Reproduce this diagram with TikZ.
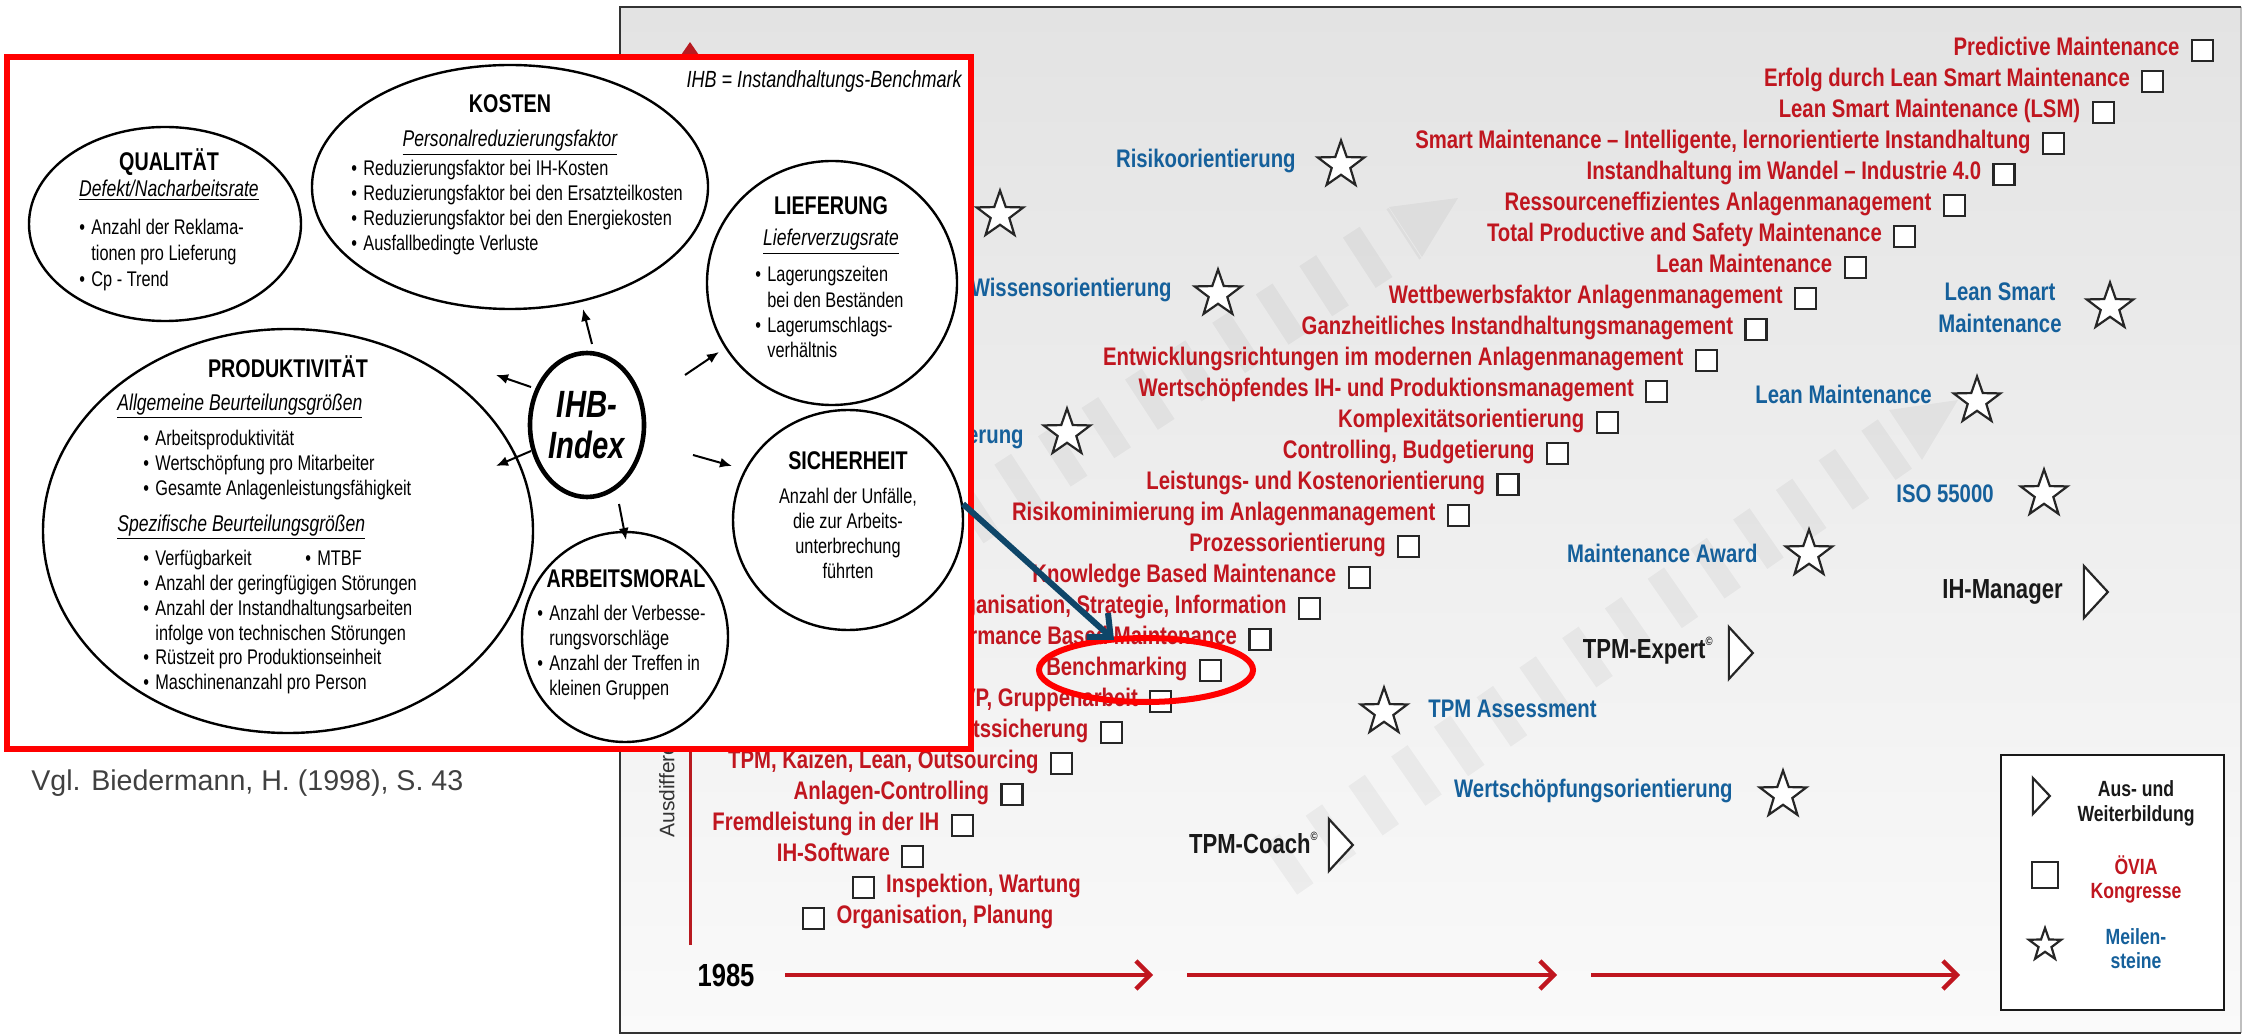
\documentclass[tikz,border=0pt]{standalone}
\usepackage{fontspec}
\setmainfont{Liberation Sans}
\newfontfamily\cnd{Liberation Sans}[FakeStretch=0.8]
\newfontfamily\ncnd{Liberation Sans}[FakeStretch=0.77]
\usetikzlibrary{shapes.geometric,arrows.meta,calc}

\definecolor{ovred}{HTML}{C0161F}
\definecolor{msblue}{HTML}{15609B}
\definecolor{framegray}{HTML}{333333}
\definecolor{pointblue}{HTML}{0E4669}
\definecolor{axisred}{HTML}{B81A20}

\newcommand\bl{\makebox[6pt][l]{•}}
\newcommand\bi{\hspace*{6pt}}

\tikzset{
  sq/.style={draw=black!85, line width=1.1pt, fill=white, minimum size=10.5pt, inner sep=0pt},
  kongress/.style={text=ovred, font=\cnd\bfseries\fontsize{12.7}{14}\selectfont, inner sep=0pt},
  milestone/.style={text=msblue, font=\cnd\bfseries\fontsize{12.7}{16}\selectfont, inner sep=0pt},
  course/.style={text=black!90, font=\cnd\bfseries\fontsize{13.8}{16}\selectfont, inner sep=0pt},
  starmark/.style={star, star points=5, star point ratio=2.5, draw=black!85, line width=1.1pt,
    fill=white, minimum size=24.5pt, inner sep=0pt},
  trimark/.style={isosceles triangle, isosceles triangle stretches, shape border rotate=0,
    minimum height=12pt, minimum width=26pt, draw=black!85, line width=1.1pt, fill=white, inner sep=0pt},
  stripe/.style={draw=black, draw opacity=0.045, line width=30pt, dash pattern=on 10pt off 16pt},
  stripetip/.style={fill=black, fill opacity=0.045},
  tl/.style={ovred, line width=2pt, -{Straight Barb[length=7pt,width=14pt,line width=2.2pt]}},
  ell/.style={ellipse, draw=black, line width=1.2pt, fill=white, inner sep=0pt},
  ttl/.style={font=\ncnd\bfseries\fontsize{12.8}{14}\selectfont, inner sep=0pt, anchor=mid},
  subt/.style={font=\ncnd\itshape\fontsize{11.4}{13}\selectfont, inner sep=0pt},
  blist/.style={font=\ncnd\fontsize{10.6}{12.4}\selectfont, align=left, inner sep=0pt, anchor=north west},
  iarr/.style={line width=1pt, -{Latex[length=6pt,width=5pt]}},
}

\begin{document}
\begin{tikzpicture}[x=0.5pt,y=-0.5pt]
\useasboundingbox (0,0) rectangle (2246,1036);

% ---------- timeline panel ----------
\shade[top color=black!11, bottom color=black!2] (620,7) rectangle (2241,1033);
\draw[black!25, line width=1pt] (2241,7) -- (2241,1033);
\draw[framegray, line width=1.3pt] (2241,7) -- (620,7) -- (620,1033) -- (2241,1033);

% faint hatched bands rising to the upper right
\draw[stripe] (880,575) -- (1405,233);
\fill[stripetip] (1458,198) -- (1389,207) -- (1422,257) -- cycle;
\draw[stripe] (1280,870) -- (1905,437);
\fill[stripetip] (1958,400) -- (1889,410) -- (1922,460) -- cycle;

% vertical axis
\coordinate (axbot) at (690,945);
\coordinate (axtop) at (690,42);
\draw[axisred, line width=1.5pt, -{Triangle[length=9pt,width=12pt]}] (axbot) -- (axtop);
\node[rotate=90, anchor=mid west, font=\fontsize{10.5}{12}\selectfont, text=black!80, inner sep=0pt]
  (ausd) at (669,838) {Ausdifferenzierung};

% time axis
\node[font=\cnd\bfseries\fontsize{16}{18}\selectfont, inner sep=0pt] (yr) at (726,975) {1985};
\coordinate (t1a) at (785,975);  \coordinate (t1b) at (1153,975);
\coordinate (t2a) at (1187,975); \coordinate (t2b) at (1557,975);
\coordinate (t3a) at (1591,975); \coordinate (t3b) at (1960,975);
\draw[tl] (t1a) -- (t1b);
\draw[tl] (t2a) -- (t2b);
\draw[tl] (t3a) -- (t3b);

% congress topics (staircase)
\node[sq] (sq0) at (813.6,918.2) {};
\node[kongress, anchor=mid west] (kg0) at ([xshift=5.5pt]sq0.east) {Organisation, Planung};
\node[sq] (sq1) at (863.2,887.2) {};
\node[kongress, anchor=mid west] (kg1) at ([xshift=5.5pt]sq1.east) {Inspektion, Wartung};
\foreach \k/\t in {
  2/{IH-Software},
  3/{Fremdleistung in der IH},
  4/{Anlagen-Controlling},
  5/{TPM, Kaizen, Lean, Outsourcing},
  6/{Qualitätssicherung},
  7/{KVP, Gruppenarbeit},
  8/{Benchmarking},
  9/{Performance Based Maintenance},
  10/{Organisation, Strategie, Information},
  11/{Knowledge Based Maintenance},
  12/{Prozessorientierung},
  13/{Risikominimierung im Anlagenmanagement},
  14/{Leistungs- und Kostenorientierung},
  15/{Controlling, Budgetierung},
  16/{Komplexitätsorientierung},
  17/{Wertschöpfendes IH- und Produktionsmanagement},
  18/{Entwicklungsrichtungen im modernen Anlagenmanagement},
  19/{Ganzheitliches Instandhaltungsmanagement},
  20/{Wettbewerbsfaktor Anlagenmanagement},
  21/{Lean Maintenance},
  22/{Total Productive and Safety Maintenance},
  23/{Ressourceneffizientes Anlagenmanagement},
  24/{Instandhaltung im Wandel – Industrie 4.0},
  25/{Smart Maintenance – Intelligente, lernorientierte Instandhaltung},
  26/{Lean Smart Maintenance (LSM)},
  27/{Erfolg durch Lean Smart Maintenance},
  28/{Predictive Maintenance}}
{
  \node[sq] (sq\k) at ({813.6+49.6*\k},{918.2-31.0*\k}) {};
  \node[kongress, anchor=mid east] (kg\k) at ([xshift=-5.5pt]sq\k.west) {\t};
}

% milestones
\node[starmark] (ms1) at (1341,165) {};
\node[milestone, anchor=mid east] (ml1) at (1296,162) {Risikoorientierung};
\node[starmark] (ms2) at (1000,215) {};
\node[starmark] (ms3) at (1218,294) {};
\node[milestone, anchor=mid east] (ml3) at (1172,291) {Wissensorientierung};
\node[starmark] (ms4) at (1067,433) {};
\node[milestone, anchor=mid east] (ml4) at (1024,438) {Prozessorientierung};
\node[starmark] (ms5) at (2110,307) {};
\node[milestone, align=center] (ml5) at (2000,308) {Lean Smart\\Maintenance};
\node[starmark] (ms6) at (1977,401) {};
\node[milestone, anchor=mid east] (ml6) at (1932,398) {Lean Maintenance};
\node[starmark] (ms7) at (2044,494) {};
\node[milestone, anchor=mid east] (ml7) at (1994,497) {ISO 55000};
\node[starmark] (ms8) at (1809,554) {};
\node[milestone, anchor=mid east] (ml8) at (1758,557) {Maintenance Award};
\node[starmark] (ms9) at (1384,712) {};
\node[milestone, anchor=mid west] (ml9) at (1428,712) {TPM Assessment};
\node[starmark] (ms10) at (1783,795) {};
\node[milestone, anchor=mid east] (ml10) at (1733,792) {Wertschöpfungsorientierung};

% training courses
\node[trimark] (tr1) at (1339,845) {};
\node[course, anchor=mid east] (tl1) at (1318,848) {TPM-Coach\raisebox{0.9ex}{\fontsize{6}{6}\selectfont ©}};
\node[trimark] (tr2) at (1739,653) {};
\node[course, anchor=mid east] (tl2) at (1713,653) {TPM-Expert\raisebox{0.9ex}{\fontsize{6}{6}\selectfont ©}};
\node[trimark] (tr3) at (2094,592) {};
\node[course, anchor=mid east] (tl3) at (2063,593) {IH-Manager};

% legend
\node[draw=black!90, line width=1.3pt, fill=white, minimum width=111.5pt, minimum height=127.5pt, inner sep=0pt]
  (legend) at (2112.5,882.5) {};
\node[trimark, minimum height=8.5pt, minimum width=18pt] (lgtri) at (2040,796) {};
\node[course, font=\cnd\bfseries\fontsize{11}{12.5}\selectfont, align=center] (lgtritx) at (2136,803) {Aus- und\\Weiterbildung};
\node[sq, minimum size=13pt] (lgsq) at (2045,875) {};
\node[kongress, font=\cnd\bfseries\fontsize{11}{12}\selectfont, align=center] (lgsqtx) at (2136,879) {ÖVIA\\Kongresse};
\node[starmark, minimum size=17pt] (lgst) at (2045,945) {};
\node[milestone, font=\cnd\bfseries\fontsize{11}{12}\selectfont, align=center] (lgsttx) at (2136,949) {Meilen-\\steine};

% ---------- benchmark inset ----------
\node[draw=red, line width=3pt, fill=white, minimum width=482pt, minimum height=346pt, inner sep=0pt]
  (inset) at (489,403) {};
\node[font=\ncnd\itshape\fontsize{11.7}{13}\selectfont, anchor=mid east, inner sep=0pt] (ihbnote) at (962,82)
  {IHB = Instandhaltungs-Benchmark};

% Kosten
\node[ell, minimum width=198pt, minimum height=122pt] (kosten) at (510,187) {};
\node[ttl] (kostenT) at (510,107) {KOSTEN};
\node[subt] (kostenS) at (510,143) {\underline{Personalreduzierungsfaktor}};
\node[blist] (kostenL) at (351,160) {\bl Reduzierungsfaktor bei IH-Kosten\\
  \bl Reduzierungsfaktor bei den Ersatzteilkosten\\
  \bl Reduzierungsfaktor bei den Energiekosten\\
  \bl Ausfallbedingte Verluste};

% Qualitaet
\node[ell, minimum width=136pt, minimum height=97pt] (qual) at (165,224) {};
\node[ttl] (qualT) at (169,165) {QUALITÄT};
\node[subt] (qualS) at (169,190) {\underline{Defekt/Nacharbeitsrate}};
\node[blist, font=\ncnd\fontsize{10.6}{13}\selectfont] (qualL) at (79,219) {\bl Anzahl der Reklama-\\
  \bi tionen pro Lieferung\\
  \bl Cp - Trend};

% Produktivitaet
\node[ell, minimum width=245pt, minimum height=202pt] (prod) at (288,531) {};
\node[ttl] (prodT) at (288,372) {PRODUKTIVITÄT};
\node[subt, anchor=mid west] (prodS1) at (117,405) {\underline{Allgemeine Beurteilungsgrößen}};
\node[blist] (prodL1) at (143,430) {\bl Arbeitsproduktivität\\
  \bl Wertschöpfung pro Mitarbeiter\\
  \bl Gesamte Anlagenleistungsfähigkeit};
\node[subt, anchor=mid west] (prodS2) at (117,526) {\underline{Spezifische Beurteilungsgrößen}};
\node[blist] (prodL2) at (143,550) {\bl\makebox[75pt][l]{Verfügbarkeit}\bl MTBF\\
  \bl Anzahl der geringfügigen Störungen\\
  \bl Anzahl der Instandhaltungsarbeiten\\
  \bi infolge von technischen Störungen\\
  \bl Rüstzeit pro Produktionseinheit\\
  \bl Maschinenanzahl pro Person};

% Lieferung
\node[ell, minimum width=125pt, minimum height=122pt] (lief) at (832,283) {};
\node[ttl] (liefT) at (831,209) {LIEFERUNG};
\node[subt] (liefS) at (831,242) {\underline{Lieferverzugsrate}};
\node[blist, font=\ncnd\fontsize{10.6}{12.7}\selectfont] (liefL) at (755,266) {\bl Lagerungszeiten\\
  \bi bei den Beständen\\
  \bl Lagerumschlags-\\
  \bi verhältnis};

% Sicherheit
\node[ell, minimum width=115pt, minimum height=110pt] (sich) at (848,520) {};
\node[ttl] (sichT) at (848,464) {SICHERHEIT};
\node[blist, align=center, anchor=north] (sichL) at (848,488) {Anzahl der Unfälle,\\
  die zur Arbeits-\\ unterbrechung\\ führten};

% Arbeitsmoral
\node[ell, minimum width=103pt, minimum height=105pt] (moral) at (625,637) {};
\node[ttl] (moralT) at (626,582) {ARBEITSMORAL};
\node[blist] (moralL) at (537,605) {\bl Anzahl der Verbesse-\\
  \bi rungsvorschläge\\
  \bl Anzahl der Treffen in\\
  \bi kleinen Gruppen};

% IHB index
\node[ellipse, draw=black, line width=2.3pt, fill=white, minimum width=57pt, minimum height=72pt,
  inner sep=0pt, align=center, font=\ncnd\bfseries\itshape\fontsize{19}{20.5}\selectfont] (ihb) at (587,425) {IHB-\\Index};

% arrows from the index to the six areas
\coordinate (a1s) at (592,344); \coordinate (a1e) at (583,309);
\coordinate (a2s) at (531,387); \coordinate (a2e) at (496,375);
\coordinate (a3s) at (685,375); \coordinate (a3e) at (719,352);
\coordinate (a4s) at (531,451); \coordinate (a4e) at (496,466);
\coordinate (a5s) at (693,455); \coordinate (a5e) at (732,466);
\coordinate (a6s) at (619,504); \coordinate (a6e) at (626,540);
\foreach \i in {1,...,6} { \draw[iarr] (a\i s) -- (a\i e); }

% source
\node[anchor=mid west, font=\fontsize{14.3}{16}\selectfont, text=black!75, inner sep=0pt] (cite) at (31,785)
  {Vgl. Biedermann, H. (1998), S. 43};

% pointer to the Benchmarking congress
\node[ellipse, draw=red, line width=3pt, minimum width=107pt, minimum height=32pt, inner sep=0pt] (hl) at (1146,670) {};
\coordinate (pstart) at (963,504);
\coordinate (pend) at (1114,640);
\draw[pointblue, line width=3pt, -{Straight Barb[length=9pt,width=16pt,line width=3pt]}] (pstart) -- (pend);

\end{tikzpicture}
\end{document}
